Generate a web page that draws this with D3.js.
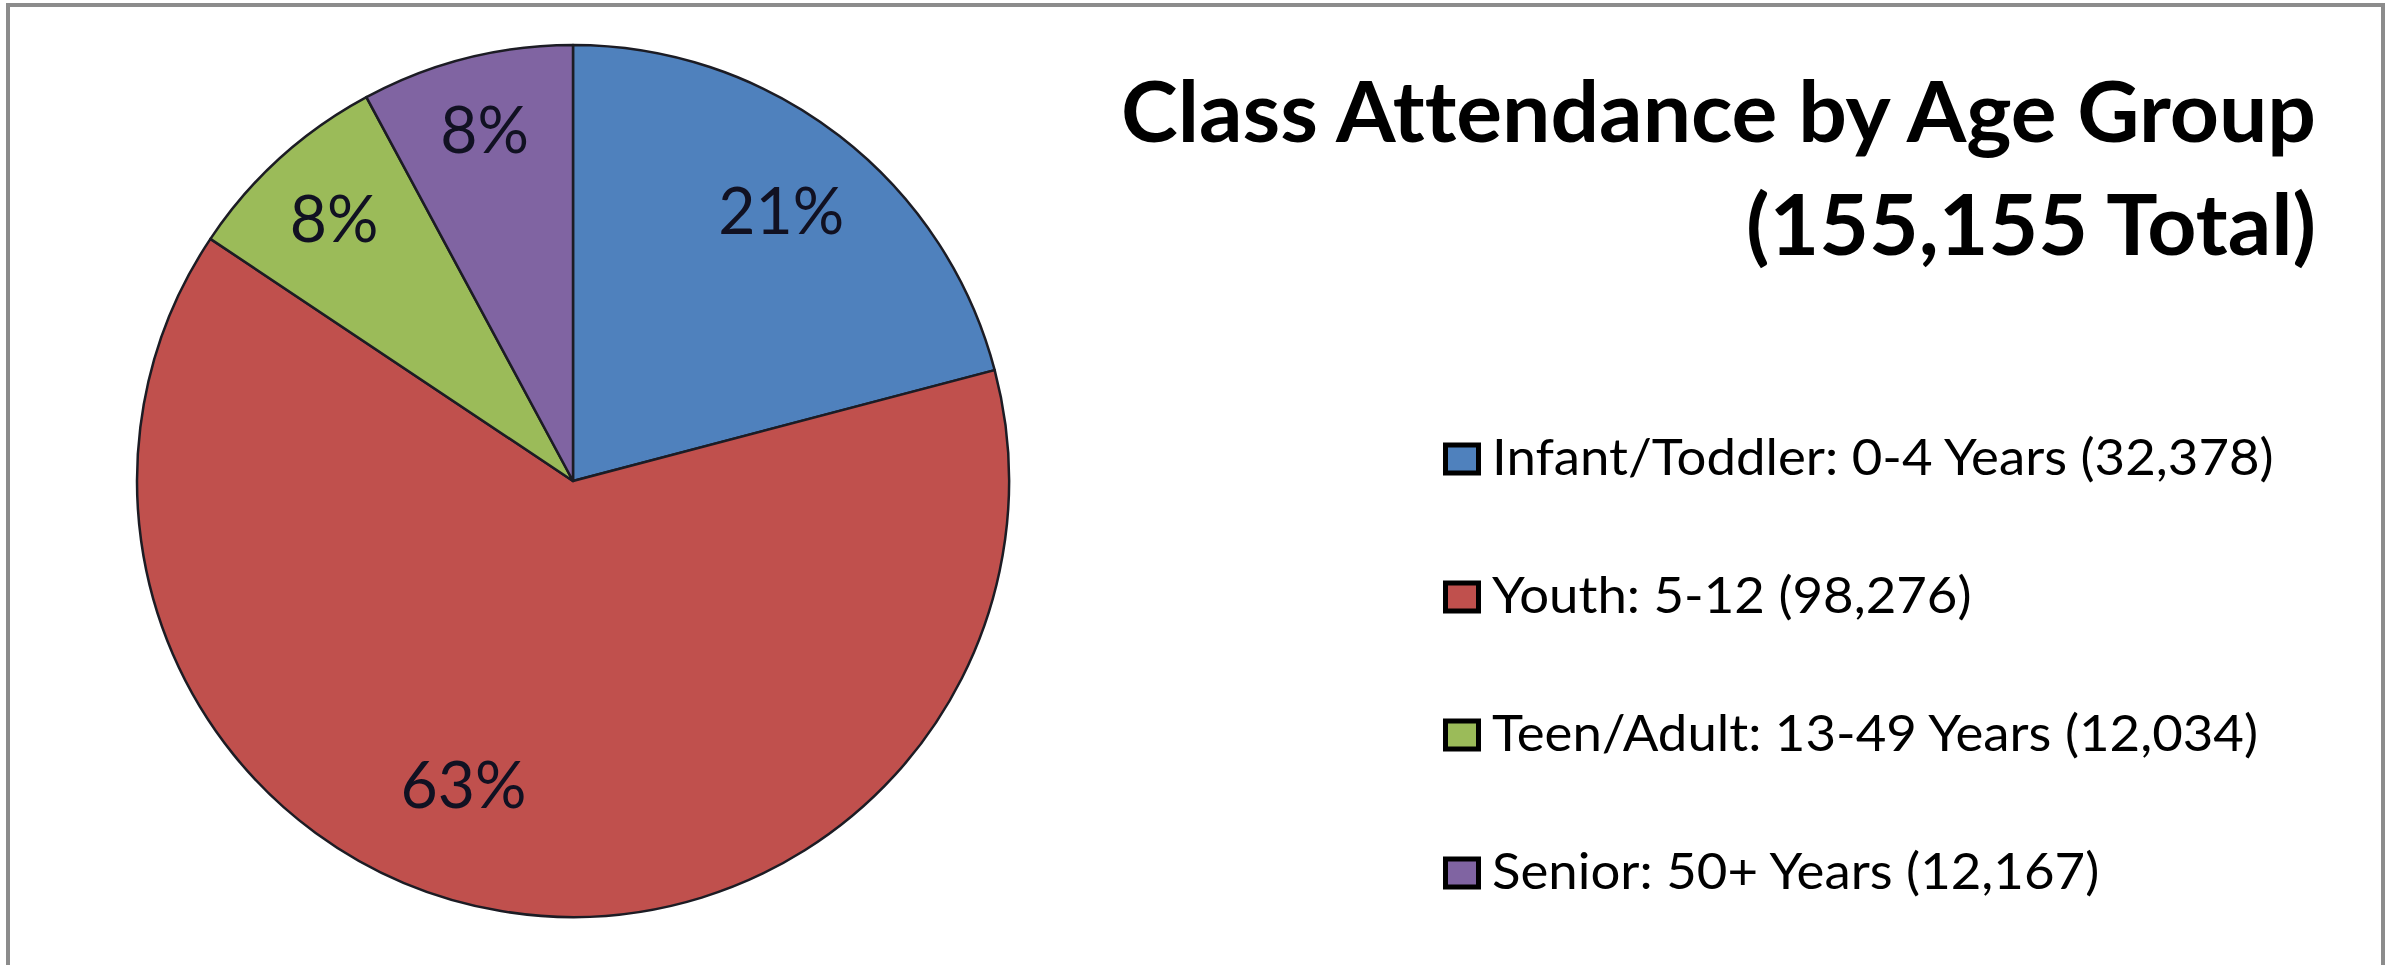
<!DOCTYPE html>
<html>
<head>
<meta charset="utf-8">
<script src="https://cdn.jsdelivr.net/npm/d3@7"></script>
<style>
  html, body { margin: 0; padding: 0; background: #fff; }
  svg { display: block; }
  text { font-family: Lato, "Open Sans", sans-serif; font-variant-ligatures: none; }
</style>
</head>
<body>
<svg id="chart"></svg>
<script>
// chart data
const categories = ["Infant/Toddler: 0-4 Years", "Youth: 5-12", "Teen/Adult: 13-49 Years", "Senior: 50+ Years"];
const counts = [32378, 98276, 12034, 12167];
const colors = ["#4F81BD", "#C0504D", "#9BBB59", "#8064A2"];
const titleLines = ["Class Attendance by Age Group", "(155,155 Total)"];

const width = 2391, height = 965;
const svg = d3.select('#chart').attr('width', width).attr('height', height);

// frame (bottom edge runs off the picture)
svg.append('rect')
  .attr('x', 8).attr('y', 5)
  .attr('width', 2375).attr('height', height + 20)
  .attr('fill', '#fff')
  .attr('stroke', '#8c8c8c')
  .attr('stroke-width', 4);

const cx = 573, cy = 481, radius = 436;
const total = d3.sum(counts);
const fmtPct = d3.format('.0%');
const fmtNum = d3.format(',');

const slices = categories.map((c, i) => ({ name: c, value: counts[i], color: colors[i] }));

const pie = d3.pie().sort(null).value(d => d.value);
const arc = d3.arc().innerRadius(0).outerRadius(radius);

const g = svg.append('g').attr('transform', 'translate(' + cx + ',' + cy + ')');

const arcs = pie(slices);

g.selectAll('path')
  .data(arcs)
  .enter()
  .append('path')
  .attr('d', arc)
  .attr('fill', d => d.data.color)
  .attr('stroke', '#1c1c24')
  .attr('stroke-width', 2.5)
  .attr('stroke-linejoin', 'round');

// percent labels, roughly where excel's best fit put them
const labelRadius = [341, 323, 355, 362];
const labelTurn = [0, 0.18, 0, 0];   // radians, big slice label sits off its mid angle
const labelFont = 65;

const labels = g.selectAll('g.lbl')
  .data(arcs)
  .enter()
  .append('g')
  .attr('class', 'lbl')
  .attr('transform', (d, i) => {
    const a = (d.startAngle + d.endAngle) / 2 + labelTurn[i];
    const x = Math.sin(a) * labelRadius[i];
    const y = -Math.cos(a) * labelRadius[i];
    return 'translate(' + x + ',' + (y + labelFont * 0.36) + ')';
  });

const lblText = labels.append('text')
  .attr('text-anchor', 'middle')
  .attr('font-size', labelFont)
  .attr('fill', '#111122')
  .text(d => fmtPct(d.value / total));

// squeeze to a calibri-like width
const w21 = lblText.filter((d, i) => i === 0).node().getComputedTextLength();
const sxLbl = 126 / w21;
lblText.attr('transform', 'scale(' + sxLbl + ',1)');

// title, right aligned
const titleX = 2316;
const titleBase = [142, 255];
const title = svg.selectAll('text.title')
  .data(titleLines)
  .enter()
  .append('text')
  .attr('class', 'title')
  .attr('text-anchor', 'end')
  .attr('font-size', 84)
  .attr('font-weight', 'bold')
  .attr('fill', '#000')
  .text(d => d);
const wTitle = title.filter((d, i) => i === 0).node().getComputedTextLength();
const sxTitle = 1195 / wTitle;
title.attr('transform', (d, i) => 'translate(' + titleX + ',' + titleBase[i] + ') scale(' + sxTitle + ',1)');

// legend
const legX = 1445, legY0 = 459, legStep = 138;
const leg = svg.selectAll('g.leg')
  .data(slices)
  .enter()
  .append('g')
  .attr('class', 'leg')
  .attr('transform', (d, i) => 'translate(' + legX + ',' + (legY0 + i * legStep) + ')');

leg.append('rect')
  .attr('x', 0.5).attr('y', -14)
  .attr('width', 33).attr('height', 28)
  .attr('fill', d => d.color)
  .attr('stroke', '#000')
  .attr('stroke-width', 5);

const legText = leg.append('text')
  .attr('font-size', 51)
  .attr('fill', '#000')
  .text(d => d.name + ' (' + fmtNum(d.value) + ')');
const wLeg = legText.filter((d, i) => i === 0).node().getComputedTextLength();
const sxLeg = 782 / wLeg;
legText.attr('transform', 'translate(47,16) scale(' + sxLeg + ',1)');
</script>
</body>
</html>
